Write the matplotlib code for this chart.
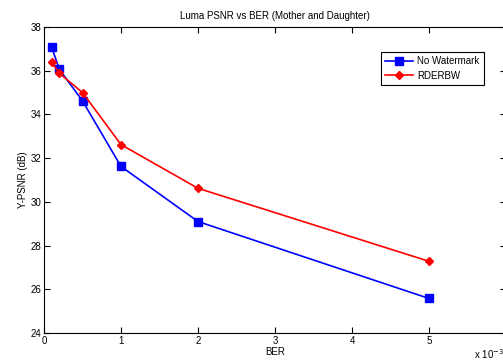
import matplotlib
matplotlib.use("Agg")
import matplotlib.pyplot as plt

plt.rcParams['font.family'] = ['Liberation Sans', 'DejaVu Sans']

ber = [0.1, 0.2, 0.5, 1, 2, 5]  # x 10^-3
no_wm = [37.07, 36.06, 34.62, 31.62, 29.1, 25.58]
rderbw = [36.38, 35.88, 35.0, 32.62, 30.62, 27.28]
xticks = [0, 1, 2, 3, 4, 5, 6]
xticklabels = ['0', '1', '2', '3', '4', '5', '']

fig = plt.figure(figsize=(5.03, 3.6), dpi=100)
ax = fig.add_axes([44/503, 27/360, (506-44)/503, (333-27)/360])

ax.plot(ber, no_wm, color='#0000ff', marker='s', markersize=6, linewidth=1.2, label='No Watermark')
ax.plot(ber, rderbw, color='#ff0000', marker='D', markersize=4.5, linewidth=1.2, label='RDERBW')

ax.set_xlim(0, 6)
ax.set_ylim(24, 38)
ax.set_xticks(xticks)
ax.set_xticklabels(xticklabels)
ax.set_yticks(range(24, 39, 2))
ax.tick_params(direction='in', top=True, right=True, labelsize=7, length=4, width=0.8, pad=2)
for s in ax.spines.values():
    s.set_linewidth(0.8)
ax.set_xlabel('BER', fontsize=7, labelpad=1)
ax.set_ylabel('Y-PSNR (dB)', fontsize=7, labelpad=2)
ax.set_title('Luma PSNR vs BER (Mother and Daughter)', fontsize=7, pad=6)

leg = ax.legend(loc='upper left', bbox_to_anchor=((381-44)/462, 1-(52-27)/306), fontsize=7,
                frameon=True, fancybox=False, edgecolor='black', framealpha=1,
                borderpad=0.45, handlelength=2.8, labelspacing=0.45, borderaxespad=0,
                handletextpad=0.5)
leg.get_frame().set_linewidth(0.8)

fig.text(474/503, 1-354/360, r'x 10$^{-3}$', fontsize=7, ha='left', va='center')

fig.savefig('out.png', dpi=100)
